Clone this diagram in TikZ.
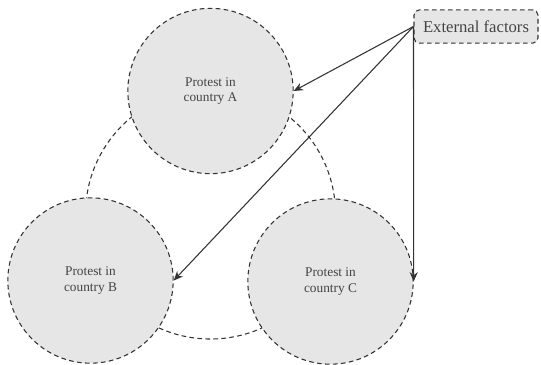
\documentclass[tikz,border=0pt]{standalone}
\usepackage{fontspec}
\setmainfont{Liberation Serif}
\usetikzlibrary{arrows.meta, positioning}
\definecolor{ink}{HTML}{333333}
\definecolor{txt}{HTML}{444444}
\definecolor{disk}{HTML}{E6E6E6}

\begin{document}
\begin{tikzpicture}[
    x=0.75pt, y=-0.75pt,
country/.style = {circle, draw=ink, fill=disk, dashed, line width=0.8pt,
                  dash pattern=on 3.5pt off 2.5pt,
                  minimum size=124pt, align=center, text=txt,
                  font=\fontsize{10}{11.5}\selectfont},
factor/.style  = {draw=ink, fill=disk, rounded corners=4pt, line width=0.8pt,
                  dash pattern=on 3.5pt off 2.5pt,
                  minimum width=93pt, minimum height=25pt, text=txt,
                  font=\fontsize{12.5}{14}\selectfont},
link/.style    = {draw=ink, line width=0.8pt, -{Stealth[length=7pt, width=6pt]}},
                        ]
\useasboundingbox (0,0) rectangle (541,364);
% the ring that ties the three protests
\draw[ink, line width=0.8pt, dash pattern=on 3.5pt off 2.5pt]
    (210.5,214) circle[radius=93.75pt];
%
\node (A) [country] at (210.5,91)  {Protest in\\country A};
\node (B) [country] at (90.5,280.5) {Protest in\\country B};
\node (C) [country] at (330.5,281.5) {Protest in\\country C};
\node (ext) [factor] at (476,26.5) {External factors};
%
\draw[link] (ext.west) -- (A.east);
\draw[link] (ext.west) -- (B.east);
\draw[link] (ext.west) -- (C.east);
    \end{tikzpicture}
\end{document}
